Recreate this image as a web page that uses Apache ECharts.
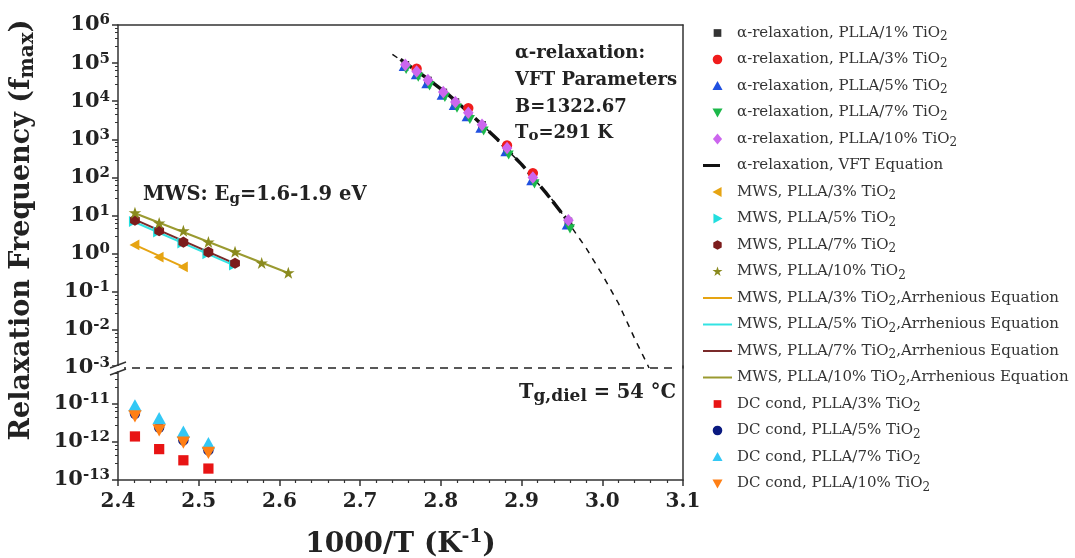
<!DOCTYPE html>
<html>
<head>
<meta charset="utf-8">
<script src="https://cdn.jsdelivr.net/npm/echarts@6/dist/echarts.min.js"></script>
<style>
  html, body { margin: 0; padding: 0; background: #fff; }
  #chart { width: 1075px; height: 558px; }
</style>
</head>
<body>
<div id="chart"></div>
<script>
// alpha relaxation points [1000/T, f_max]
const alpha1 = [[2.756, 9.0e4], [2.784, 3.5e4], [2.803, 1.7e4], [2.818, 9.5e3], [2.851, 2.4e3], [2.882, 5.9e2], [2.958, 7.0]];
const alpha3 = [[2.770, 7.1e4], [2.834, 6.6e3], [2.882, 6.9e2], [2.914, 1.3e2]];
const alpha5 = [[2.754, 8.0e4], [2.769, 4.8e4], [2.782, 2.8e4], [2.801, 1.4e4], [2.816, 7.5e3], [2.832, 3.8e3], [2.849, 1.9e3], [2.880, 4.6e2], [2.912, 8.0e1], [2.956, 5.5]];
const alpha7 = [[2.757, 7.0e4], [2.772, 4.4e4], [2.786, 2.6e4], [2.805, 1.3e4], [2.820, 6.8e3], [2.836, 3.4e3], [2.853, 1.7e3], [2.884, 4.0e2], [2.916, 7.0e1], [2.960, 4.6]];
const alpha10 = [[2.756, 9.0e4], [2.770, 6.0e4], [2.784, 3.6e4], [2.803, 1.75e4], [2.818, 9.5e3], [2.834, 5.0e3], [2.851, 2.4e3], [2.882, 5.9e2], [2.914, 1.0e2], [2.958, 7.5]];
const vftFit = [[2.75, 1.25e5], [2.78, 4.4e4], [2.81, 1.45e4], [2.84, 4.0e3], [2.87, 1.0e3], [2.90, 2.2e2], [2.93, 4.0e1], [2.965, 4.5]];
const vftExtrap = [[2.74, 1.7e5], [2.78, 4.4e4], [2.82, 1.0e4], [2.86, 1.6e3], [2.90, 2.2e2], [2.94, 2.3e1], [2.98, 1.4], [3.00, 0.28], [3.02, 0.05], [3.04, 6e-3], [3.058, 1e-3]];
const tgLine = [[2.4, 1e-3], [3.09, 1e-3]];

// MWS points
const mws3 = [[2.421, 1.7], [2.451, 0.81], [2.481, 0.45]];
const mws5 = [[2.419, 7.0], [2.449, 3.7], [2.479, 1.9], [2.510, 1.0], [2.543, 0.5]];
const mws7 = [[2.421, 7.6], [2.451, 4.0], [2.481, 2.0], [2.512, 1.1], [2.545, 0.56]];
const mws10 = [[2.421, 11.7], [2.451, 6.3], [2.481, 3.9], [2.512, 2.0], [2.545, 1.1], [2.578, 0.56], [2.611, 0.31]];
const arrh3 = [[2.421, 1.7], [2.481, 0.45]];
const arrh5 = [[2.419, 7.0], [2.543, 0.5]];
const arrh7 = [[2.421, 7.8], [2.545, 0.55]];
const arrh10 = [[2.421, 11.5], [2.611, 0.31]];

// DC conductivity points
const dc3 = [[2.421, 1.4e-12], [2.451, 6.5e-13], [2.481, 3.3e-13], [2.512, 2.0e-13]];
const dc5 = [[2.421, 5.5e-12], [2.451, 2.4e-12], [2.481, 1.1e-12], [2.512, 6.0e-13]];
const dc7 = [[2.421, 8.9e-12], [2.451, 4.1e-12], [2.481, 1.8e-12], [2.512, 9.0e-13]];
const dc10 = [[2.421, 4.9e-12], [2.451, 2.1e-12], [2.481, 1.0e-12], [2.512, 5.4e-13]];

const FONT = '"DejaVu Serif", "Liberation Serif", serif';
const AXC = '#333';

// symbol paths in a 0..100 box (corner anchors keep the box size)
const BOX = 'M0,0 L0,0 M100,100 L100,100 ';
const SYM = {
  square: 'path://' + BOX + 'M18,18 L82,18 L82,82 L18,82 Z',
  circle: 'path://' + BOX + 'M50,10 A40,40 0 1 1 49.9,10 Z',
  up: 'path://' + BOX + 'M50,8 L92,84 L8,84 Z',
  down: 'path://' + BOX + 'M50,92 L92,16 L8,16 Z',
  left: 'path://' + BOX + 'M8,50 L84,8 L84,92 Z',
  right: 'path://' + BOX + 'M92,50 L16,8 L16,92 Z',
  diamond: 'path://' + BOX + 'M50,5 L88,50 L50,95 L12,50 Z',
  hexagon: 'path://' + BOX + 'M50,10 L85,30 L85,70 L50,90 L15,70 L15,30 Z',
  star: 'path://' + BOX + 'M50,8 L60,38 L92,38 L66,57 L76,88 L50,69 L24,88 L34,57 L8,38 L40,38 Z'
};
const LINE_ICON = 'path://M0,0 L0,0 M29,12 L29,12 M0,5 L29,5 L29,7 L0,7 Z';
const VFT_ICON = 'path://M0,0 L0,0 M29,12 L29,12 M0,4.5 L17,4.5 L17,7.5 L0,7.5 Z';

const chart = echarts.init(document.getElementById('chart'));

function powLabel(v) {
  const e = Math.round(Math.log10(v));
  if (e === -10) return '';
  return '{b|10}{s|' + e + '}';
}
const powRich = {
  b: { fontFamily: FONT, fontWeight: 'bold', fontSize: 21, color: '#222', lineHeight: 24 },
  s: { fontFamily: FONT, fontWeight: 'bold', fontSize: 15, color: '#222', verticalAlign: 'top', lineHeight: 15 }
};

function sc(name, data, symbol, color, size, xi, yi) {
  return {
    name: name, type: 'scatter', data: data, symbol: SYM[symbol], symbolSize: size,
    itemStyle: { color: color, opacity: 1 }, z: 3, legendIcon: SYM[symbol],
    xAxisIndex: xi || 0, yAxisIndex: yi || 0
  };
}
function ln(name, data, color, width, type, icon) {
  return {
    name: name, type: 'line', data: data, symbol: 'none', z: 1, legendIcon: icon || LINE_ICON,
    itemStyle: { color: color }, lineStyle: { color: color, width: width, type: type || 'solid' },
    xAxisIndex: 0, yAxisIndex: 0
  };
}

const series = [
  sc('α-relaxation, PLLA/1% TiO2', alpha1, 'square', '#333', 12),
  sc('α-relaxation, PLLA/3% TiO2', alpha3, 'circle', '#f01c1c', 13),
  sc('α-relaxation, PLLA/5% TiO2', alpha5, 'up', '#2050e0', 12),
  sc('α-relaxation, PLLA/7% TiO2', alpha7, 'down', '#1cb84a', 12),
  sc('α-relaxation, PLLA/10% TiO2', alpha10, 'diamond', '#cc66ee', 14),
  ln('α-relaxation, VFT Equation', vftFit, '#111', 3.5, [14, 5], VFT_ICON),
  sc('MWS, PLLA/3% TiO2', mws3, 'left', '#e6a412', 13),
  sc('MWS, PLLA/5% TiO2', mws5, 'right', '#22dede', 13),
  sc('MWS, PLLA/7% TiO2', mws7, 'hexagon', '#7c1c1c', 14),
  sc('MWS, PLLA/10% TiO2', mws10, 'star', '#8a8a1e', 15),
  ln('MWS, PLLA/3% TiO2,Arrhenious Equation', arrh3, '#e6a412', 2),
  ln('MWS, PLLA/5% TiO2,Arrhenious Equation', arrh5, '#33e3e3', 2),
  ln('MWS, PLLA/7% TiO2,Arrhenious Equation', arrh7, '#7a2a2a', 2),
  ln('MWS, PLLA/10% TiO2,Arrhenious Equation', arrh10, '#9a9a30', 2),
  sc('DC cond, PLLA/3% TiO2', dc3, 'square', '#e81414', 16, 2, 2),
  sc('DC cond, PLLA/5% TiO2', dc5, 'circle', '#0a1a80', 13, 2, 2),
  sc('DC cond, PLLA/7% TiO2', dc7, 'up', '#33c8f5', 16, 2, 2),
  sc('DC cond, PLLA/10% TiO2', dc10, 'down', '#ff7f14', 16, 2, 2),
  Object.assign(ln('vftExtrap', vftExtrap, '#111', 1.5, [6, 6]), { z: 0, silent: true }),
  Object.assign(ln('tg', tgLine, '#222', 1.5, [8, 6]), { clip: false, silent: true })
];

const legendData = series.slice(0, 18).map(s => ({ name: s.name, icon: s.legendIcon }));

function label(x, y, text, size, align, extra, subScale) {
  const ss = Math.round(size * (subScale || 0.75));
  return Object.assign({
    type: 'text', x: x, y: y, z: 50,
    style: {
      text: text, fill: '#222', fontFamily: FONT, fontWeight: 'bold', fontSize: size,
      align: align || 'left', verticalAlign: 'middle', lineHeight: size + 4,
      rich: {
        s: { fontFamily: FONT, fontWeight: 'bold', fontSize: ss, fill: '#222', verticalAlign: 'bottom', lineHeight: ss }
      }
    }
  }, extra || {});
}

const option = {
  backgroundColor: '#fff',
  animation: false,
  grid: [
    { left: 118, top: 25, width: 565, height: 343, outerBoundsMode: 'none' },
    { left: 118, top: 366, width: 565, height: 114, outerBoundsMode: 'none' }
  ],
  xAxis: [
    { gridIndex: 0, type: 'value', min: 2.4, max: 3.1, show: false },
    { gridIndex: 0, type: 'value', min: 2.4, max: 3.1, position: 'top',
      axisLine: { lineStyle: { color: AXC, width: 1.5 } }, axisTick: { show: false },
      axisLabel: { show: false }, splitLine: { show: false } },
    { gridIndex: 1, type: 'value', min: 2.4, max: 3.1, interval: 0.1,
      axisLine: { lineStyle: { color: AXC, width: 1.5 } },
      axisTick: { show: true, length: 6, lineStyle: { color: AXC, width: 1.5 } },
      minorTick: { show: true, splitNumber: 5, length: 3, lineStyle: { color: AXC, width: 1.2 } },
      axisLabel: { formatter: v => v.toFixed(1), fontFamily: FONT, fontWeight: 'bold', fontSize: 20, color: '#222', margin: 12 },
      splitLine: { show: false },
      name: '1000/T (K{s|-1})', nameLocation: 'middle', nameGap: 48,
      nameTextStyle: { fontFamily: FONT, fontWeight: 'bold', fontSize: 28, color: '#222', lineHeight: 34,
        rich: { s: { fontFamily: FONT, fontWeight: 'bold', fontSize: 19, color: '#222', verticalAlign: 'top', lineHeight: 19 } } }
    }
  ],
  yAxis: [
    { gridIndex: 0, type: 'log', logBase: 10, min: 1e-3, max: 1e6,
      axisLine: { show: true, lineStyle: { color: AXC, width: 1.5 } },
      axisTick: { show: true, length: 6, lineStyle: { color: AXC, width: 1.5 } },
      minorTick: { show: true, splitNumber: 5, length: 3, lineStyle: { color: AXC } },
      axisLabel: { formatter: powLabel, rich: powRich, margin: 8 },
      splitLine: { show: false } },
    { gridIndex: 0, type: 'log', min: 1e-3, max: 1e6, position: 'right',
      axisLine: { show: true, lineStyle: { color: AXC, width: 1.5 } }, axisTick: { show: false },
      axisLabel: { show: false }, splitLine: { show: false } },
    { gridIndex: 1, type: 'log', logBase: 10, min: 1e-13, max: 1e-10,
      axisLine: { show: true, lineStyle: { color: AXC, width: 1.5 } },
      axisTick: { show: true, length: 6, lineStyle: { color: AXC, width: 1.5 } },
      minorTick: { show: true, splitNumber: 5, length: 3, lineStyle: { color: AXC } },
      axisLabel: { formatter: powLabel, rich: powRich, margin: 8 },
      splitLine: { show: false } },
    { gridIndex: 1, type: 'log', min: 1e-13, max: 1e-10, position: 'right',
      axisLine: { show: true, lineStyle: { color: AXC, width: 1.5 } }, axisTick: { show: false },
      axisLabel: { show: false }, splitLine: { show: false } }
  ],
  legend: {
    data: legendData,
    orient: 'vertical', left: 703, top: 23, padding: 0,
    itemWidth: 29, itemHeight: 12, itemGap: 6.5,
    formatter: n => n.replace('TiO2', 'TiO{s|2}'),
    textStyle: { fontFamily: FONT, fontSize: 15, color: '#333', lineHeight: 20,
      rich: { s: { fontFamily: FONT, fontSize: 12, color: '#333', verticalAlign: 'bottom', lineHeight: 12 } } }
  },
  graphic: [
    label(22, 230, 'Relaxation Frequency (f{s|max})', 27, 'center', { rotation: Math.PI / 2 }),
    label(143, 195, 'MWS: E{s|g}=1.6-1.9 eV', 19.5),
    label(515, 53, 'α-relaxation:', 18),
    label(515, 80, 'VFT Parameters', 18),
    label(515, 107, 'B=1322.67', 18),
    label(515, 133, 'T{s|o}=291 K', 18, 'left', null, 0.85),
    label(676, 393, 'T{s|g,diel} = 54 °C', 19.5, 'right', null, 0.85),
    { type: 'rect', z: 60, shape: { x: 112, y: 366, width: 12, height: 5 }, style: { fill: '#fff' } },
    { type: 'line', z: 61, shape: { x1: 110, y1: 368, x2: 126, y2: 362 }, style: { stroke: AXC, lineWidth: 1.5 } },
    { type: 'line', z: 61, shape: { x1: 110, y1: 375, x2: 126, y2: 369 }, style: { stroke: AXC, lineWidth: 1.5 } }
  ],
  series: series
};

chart.setOption(option);
</script>
</body>
</html>
